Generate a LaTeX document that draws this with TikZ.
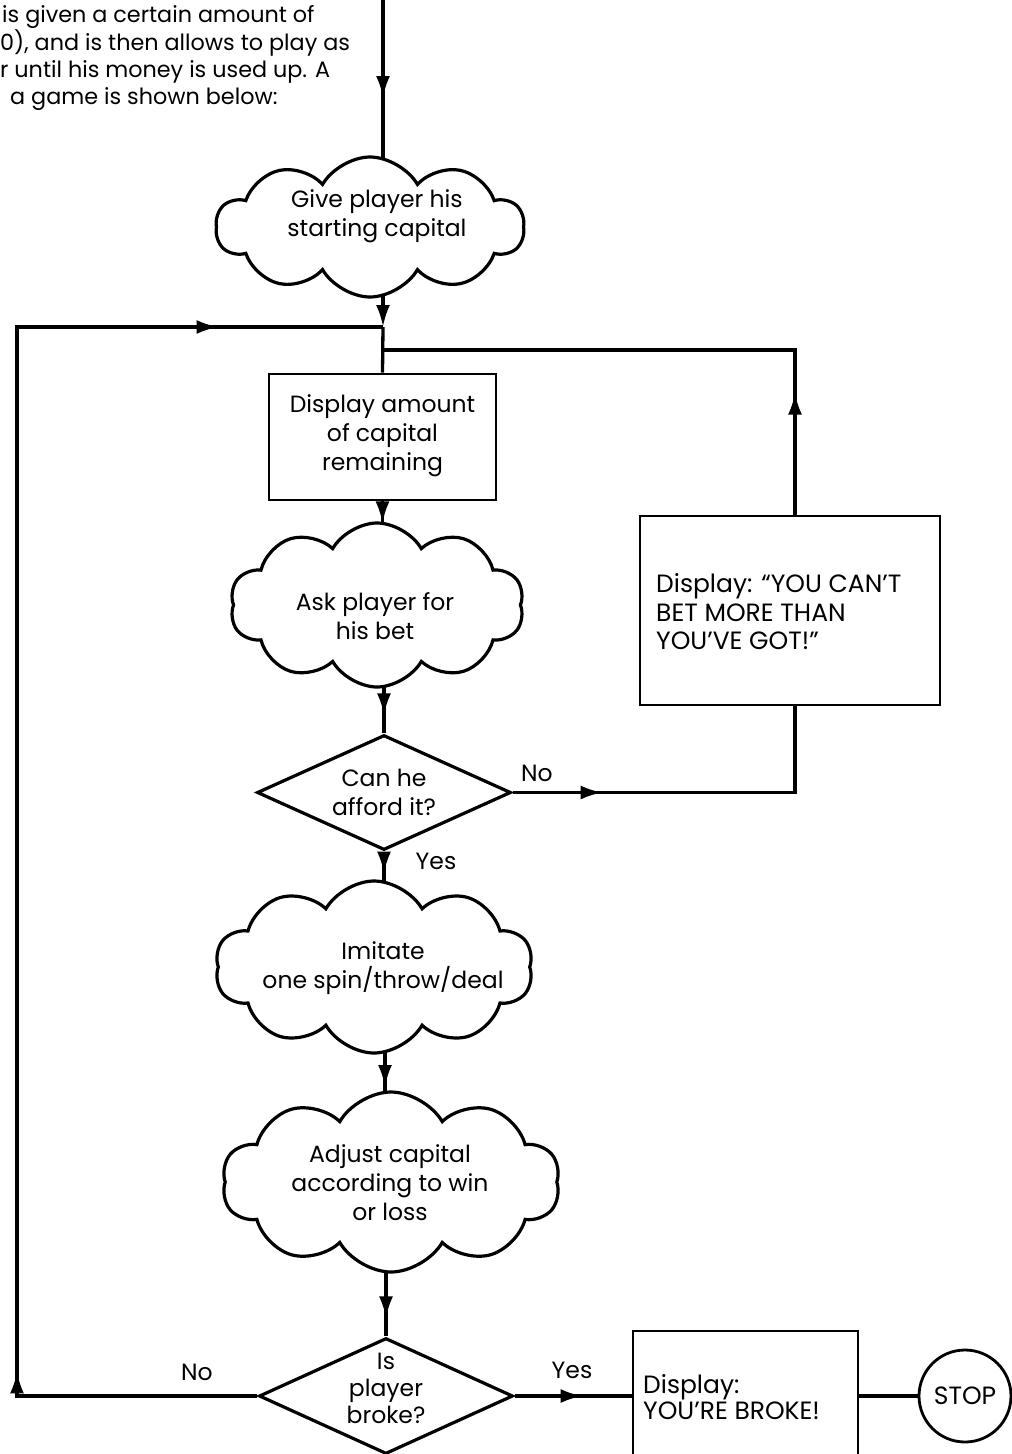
\documentclass[tikz,border=0pt]{standalone}
\usepackage{fontspec}
\setmainfont{Poppins}
\usetikzlibrary{shapes.geometric,shapes.symbols,arrows.meta,decorations.markings}
\pgfdeclarelayer{background}
\pgfsetlayers{background,main}

\tikzset{
  wire/.style={line width=3.3pt, line join=miter},
  ahead/.tip={Latex[length=22pt,width=14pt]},
  tipat/.style={postaction={decorate},
    decoration={markings, mark=at position #1 with {\arrow{ahead}}}},
  twotips/.style 2 args={postaction={decorate},
    decoration={markings,
      mark=at position #1 with {\arrow{ahead}},
      mark=at position #2 with {\arrow{ahead}}}},
  puffy/.style={cloud, cloud puffs=10, cloud puff arc=120, cloud ignores aspect,
    draw, fill=white, line width=3.2pt, inner sep=0pt},
  panel/.style={rectangle, draw, fill=white, line width=2.8pt, inner sep=0pt},
  decision/.style={diamond, draw, fill=white, line width=3.2pt, inner sep=0pt},
  stopper/.style={circle, draw, fill=white, line width=2.8pt, inner sep=0pt, minimum size=92pt},
  txt/.style={font=\fontsize{23.5}{29}\selectfont, align=center, inner sep=0pt},
  ltxt/.style={font=\fontsize{23.5}{28.5}\selectfont, align=left, inner sep=0pt, anchor=west},
  introtxt/.style={ltxt, font=\fontsize{22.3}{27}\selectfont, anchor=base west},
}

\begin{document}
\begin{tikzpicture}[x=1pt,y=-1pt]
\useasboundingbox (0,0) rectangle (1012,1454);

% introductory paragraph
\node[introtxt] (p1) at (2,22) {is given a certain amount of};
\node[introtxt] (p2) at (0,50) {0), and is then allows to play as};
\node[introtxt] (p3) at (0,77) {r until his money is used up. A};
\node[introtxt] (p4) at (10,104) {a game is shown below:};

% processing steps
\node[puffy, minimum width=308pt, minimum height=140pt] (c1) at (370,227) {};
\node[txt] (c1t) at (377,216) {Give player his\\starting capital};

\node[panel, minimum width=227pt, minimum height=126pt] (b1) at (382.5,437) {};
\node[txt] (b1t) at (382.5,436) {Display amount\\of capital\\remaining};

\node[puffy, minimum width=294pt, minimum height=164pt] (c2) at (377,605) {};
\node[txt] (c2t) at (375,616) {Ask player for\\his bet};

\node[decision, minimum width=254pt, minimum height=115pt] (d1) at (384,792.5) {};
\node[txt] (d1t) at (384,792) {Can he\\afford it?};

\node[panel, minimum width=300pt, minimum height=189pt] (b2) at (790,610.5) {};
\node[ltxt, font=\fontsize{25}{28.5}\selectfont] (b2t) at (656,612) {Display: “YOU CAN’T\\BET MORE THAN\\YOU’VE GOT!”};

\node[puffy, minimum width=318pt, minimum height=172pt] (c3) at (374,967) {};
\node[txt] (c3t) at (383,968) {Imitate\\one spin/throw/deal};

\node[puffy, minimum width=338pt, minimum height=180pt] (c4) at (391,1182) {};
\node[txt] (c4t) at (390,1183) {Adjust capital\\according to win\\or loss};

\node[decision, minimum width=254pt, minimum height=116pt] (d2) at (386,1396) {};
\node[txt, font=\fontsize{23.5}{27}\selectfont] (d2t) at (386,1388) {Is\\player\\broke?};

\node[panel, minimum width=225pt, minimum height=130pt] (b3) at (745.5,1396) {};
\node[ltxt, font=\fontsize{25}{26}\selectfont] (b3t) at (643,1397) {Display:\\YOU’RE BROKE!};

\node[stopper] (stop) at (965,1396) {};
\node[txt, font=\fontsize{25}{29}\selectfont] (stopt) at (965,1396) {STOP};

% branch labels
\node[txt] (no1) at (537,773) {No};
\node[txt] (yes1) at (436,861) {Yes};
\node[txt] (no2) at (197,1372) {No};
\node[txt] (yes2) at (572,1370) {Yes};

% junction points
\coordinate (top) at (383,0);
\coordinate (j1) at (383,327);
\coordinate (j2) at (383,350);
\coordinate (rc) at (795,350);
\coordinate (lc) at (17,1396);
\coordinate (lt) at (17,327);

\begin{pgfonlayer}{background}
  \draw[wire, tipat=98pt] (top) -- (top |- c1);
  \draw[wire, -ahead] (j1 |- c1) -- (j1);
  \draw[wire] (j1) -- (b1.north);
  \draw[wire, tipat=122pt] (rc |- b2.north) -- (rc) -- (j2);
  \draw[wire, tipat=22pt] (b1.south) -- (b1.south |- c2);
  \draw[wire, tipat=-18pt] (d1.north |- c2) -- (d1.north);
  \draw[wire, tipat=22pt] (d1.south) -- (d1.south |- c3);
  \draw[wire, tipat=120pt] (385,967) -- (385,1182);
  \draw[wire, tipat=-18pt] (d2.north |- c4) -- (d2.north);
  \draw[wire, twotips={265pt}{1511pt}] (d2.west) -- (lc) -- (lt) -- (j1);
  \draw[wire, tipat=90pt] (d1.east) -- (d1.east -| rc) -- (rc |- b2.south);
  \draw[wire, tipat=68pt] (d2.east) -- (b3.west);
  \draw[wire] (b3.east) -- (stop.west);
\end{pgfonlayer}
\end{tikzpicture}
\end{document}
